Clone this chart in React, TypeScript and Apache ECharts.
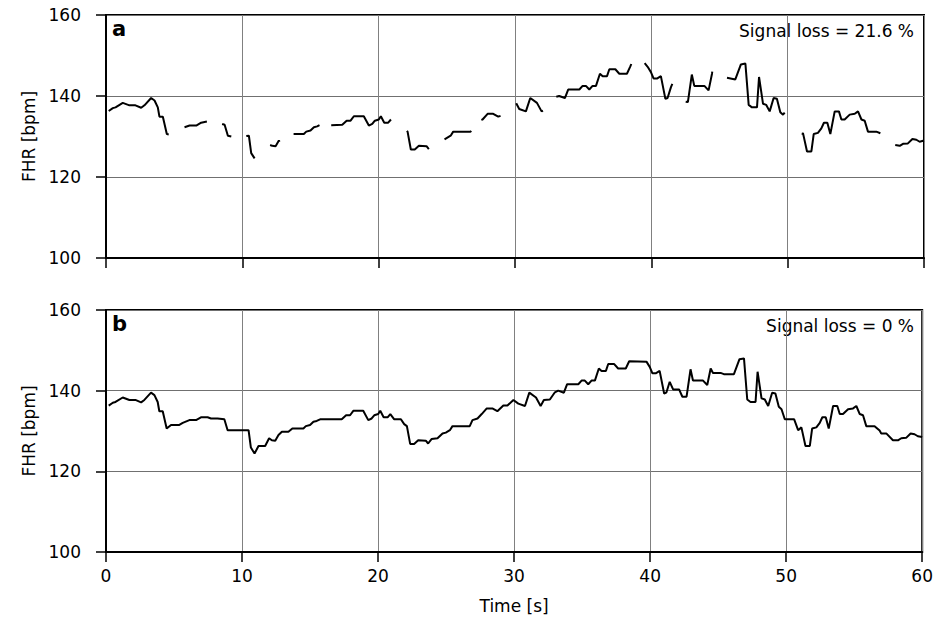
import React, { useEffect, useRef } from "react";
import * as echarts from "echarts";

const TIME = [
  0.2, 0.5, 0.7, 1.23, 1.72, 2.16, 2.58, 2.82, 3.31, 3.56, 3.8, 3.92, 4.17, 4.46, 4.78, 5.39, 5.64, 6.13, 6.62, 6.98,
  7.47, 7.72, 8.2, 8.7, 8.94, 10.48, 10.65, 10.92, 11.21, 11.7, 11.99, 12.19, 12.44, 12.68, 12.93, 13.41, 13.7, 14.51,
  14.69, 15.0, 15.25, 15.49, 15.74, 17.33, 17.65, 17.94, 18.18, 18.91, 19.28, 19.53, 19.72, 20.01, 20.16, 20.41, 20.7,
  20.9, 21.19, 21.68, 21.92, 22.12, 22.36, 22.65, 22.95, 23.51, 23.68, 23.93, 24.37, 24.74, 24.98, 25.28, 25.47, 26.74,
  26.94, 27.31, 27.62, 27.99, 28.4, 28.77, 29.21, 29.51, 29.95, 30.31, 30.8, 31.12, 31.61, 31.95, 32.19, 32.63, 33.0,
  33.24, 33.66, 33.9, 34.72, 34.96, 35.2, 35.45, 35.69, 35.94, 36.23, 36.43, 36.75, 36.92, 37.36, 37.65, 38.21, 38.46,
  39.73, 39.97, 40.17, 40.41, 40.7, 41.03, 41.19, 41.44, 41.69, 42.13, 42.37, 42.68, 42.97, 43.15, 43.89, 44.2, 44.45,
  44.62, 45.18, 45.42, 46.16, 46.57, 46.9, 47.14, 47.38, 47.75, 47.9, 48.19, 48.43, 48.68, 48.97, 49.21, 49.46, 49.66,
  49.9, 50.59, 50.88, 51.12, 51.42, 51.74, 51.91, 52.22, 52.47, 52.66, 52.91, 53.13, 53.45, 53.76, 53.94, 54.18, 54.55,
  54.92, 55.16, 55.41, 55.65, 55.89, 56.5, 56.87, 56.99, 57.36, 57.85, 58.22, 58.46, 58.82, 59.15, 59.44, 59.68, 60.0,
];

const FHR = [
  136.3, 137.0, 137.2, 138.3, 137.7, 137.7, 137.1, 137.7, 139.5, 138.9, 137.2, 134.9, 134.9, 130.6, 131.5, 131.5, 132.0,
  132.7, 132.7, 133.4, 133.4, 133.1, 133.1, 132.9, 130.2, 130.2, 125.9, 124.4, 126.3, 126.3, 128.2, 127.7, 127.6, 129.0,
  129.8, 129.8, 130.6, 130.6, 131.2, 131.5, 132.3, 132.5, 132.9, 132.9, 133.9, 133.9, 135.0, 135.0, 132.7, 133.1, 133.9,
  134.2, 135.0, 133.4, 133.4, 134.2, 132.9, 132.9, 131.7, 131.2, 126.8, 126.8, 127.7, 127.6, 126.9, 128.0, 128.2, 129.4,
  129.6, 130.2, 131.2, 131.2, 132.7, 133.1, 134.2, 135.6, 135.6, 134.9, 136.3, 136.3, 137.7, 136.8, 136.2, 139.5, 138.3,
  136.2, 137.7, 137.8, 139.6, 140.0, 139.5, 141.6, 141.6, 142.5, 142.5, 141.6, 142.5, 142.5, 145.5, 144.9, 144.9, 146.6,
  146.6, 145.5, 145.5, 147.3, 147.2, 145.9, 144.3, 144.3, 144.9, 139.3, 139.5, 142.2, 140.3, 140.3, 138.5, 138.5, 145.3,
  142.5, 142.5, 141.4, 145.5, 144.4, 144.4, 144.1, 144.1, 147.8, 148.0, 137.8, 137.2, 137.2, 144.7, 138.1, 137.8, 136.2,
  139.5, 139.3, 136.0, 135.4, 132.9, 132.9, 130.2, 130.9, 126.3, 126.3, 130.6, 130.9, 132.0, 133.4, 133.4, 130.6, 136.2,
  136.2, 134.2, 134.2, 135.4, 135.6, 136.2, 134.2, 133.9, 131.2, 131.2, 130.1, 129.4, 129.4, 127.7, 127.7, 128.2, 128.3,
  129.4, 129.2, 128.7, 128.5,
];

const SEG_START = [0.2, 5.76, 8.52, 10.29, 12.04, 13.76, 16.52, 22.07, 24.83, 27.53, 30.09, 33.03, 39.51, 42.52, 45.55, 51.08, 57.89];
const SEG_START_FHR = [136.3, 132.3, 133.1, 130.1, 127.9, 130.6, 132.8, 131.4, 129.3, 134.1, 138.2, 139.8, 148.1, 138.6, 144.5, 130.4, 127.9];
const SEG_END = [4.6, 7.4, 9.19, 10.9, 12.73, 15.66, 20.92, 23.73, 26.79, 28.94, 32.05, 38.53, 41.54, 44.47, 49.78, 56.8, 60.0];
const SEG_END_FHR = [130.5, 133.7, 130.0, 124.6, 128.7, 132.8, 134.1, 126.9, 131.4, 135.1, 136.4, 147.9, 143.0, 146.0, 135.9, 130.8, 129.0];

const X_TICKS = [0, 10, 20, 30, 40, 50, 60];
const Y_TICKS = [100, 120, 140, 160];
const LOSS_A = "Signal loss = 21.6 %";
const LOSS_B = "Signal loss = 0 %";

const FONT = "DejaVu Sans";

function buildA() {
  const out: any[] = [];
  for (let k = 0; k < SEG_START.length; k++) {
    const s = SEG_START[k];
    const e = SEG_END[k];
    out.push([s, SEG_START_FHR[k]]);
    for (let i = 0; i < TIME.length; i++) {
      if (TIME[i] > s && TIME[i] < e) out.push([TIME[i], FHR[i]]);
    }
    out.push([e, SEG_END_FHR[k]]);
    if (k < SEG_START.length - 1) out.push([e, "-"]);
  }
  return out;
}

export default function App() {
  const ref = useRef<HTMLDivElement>(null);
  useEffect(() => {
    if (!ref.current) return;
    const chart = echarts.init(ref.current, null, { renderer: "svg" });
    const xAxisBase = (gi: number, labels: boolean) => ({
      type: "value",
      gridIndex: gi,
      min: X_TICKS[0],
      max: X_TICKS[X_TICKS.length - 1],
      interval: 10,
      axisLine: { show: true, lineStyle: { color: "#000", width: 2 } },
      axisTick: { show: true, inside: false, length: 10, lineStyle: { color: "#000", width: 1.5 } },
      axisLabel: {
        show: labels,
        color: "#000",
        fontFamily: FONT,
        fontSize: 17,
        margin: 15,
      },
      splitLine: { show: true, lineStyle: { color: "#808080", width: 1 } },
      name: labels ? "Time [s]" : "",
      nameLocation: "middle",
      nameGap: 45,
      nameTextStyle: { color: "#000", fontFamily: FONT, fontSize: 17 },
    });
    const yAxisBase = (gi: number) => ({
      type: "value",
      gridIndex: gi,
      min: Y_TICKS[0],
      max: Y_TICKS[Y_TICKS.length - 1],
      interval: 20,
      axisLine: { show: true, lineStyle: { color: "#000", width: 2 } },
      axisTick: { show: true, inside: false, length: 10, lineStyle: { color: "#000", width: 1.5 } },
      axisLabel: { color: "#000", fontFamily: FONT, fontSize: 17, margin: 25 },
      splitLine: { show: true, lineStyle: { color: "#707070", width: 1 } },
      name: "FHR [bpm]",
      nameLocation: "middle",
      nameGap: 66,
      nameTextStyle: { color: "#000", fontFamily: FONT, fontSize: 17 },
    });
    const lineStyle = { color: "#000", width: 2 };
    chart.setOption({
      animation: false,
      backgroundColor: "#fff",
      grid: [
        { left: 106, top: 15, width: 818, height: 243, show: true, borderColor: "#000", borderWidth: 2, backgroundColor: "transparent" },
        { left: 106, top: 310, width: 818, height: 242, show: true, borderColor: "#000", borderWidth: 2, backgroundColor: "transparent" },
      ],
      xAxis: [xAxisBase(0, false), xAxisBase(1, true)],
      yAxis: [yAxisBase(0), yAxisBase(1)],
      series: [
        {
          type: "line",
          xAxisIndex: 0,
          yAxisIndex: 0,
          data: buildA(),
          showSymbol: false,
          symbol: "none",
          connectNulls: false,
          lineStyle,
        },
        {
          type: "line",
          xAxisIndex: 1,
          yAxisIndex: 1,
          data: TIME.map((t, i) => [t, FHR[i]]),
          showSymbol: false,
          symbol: "none",
          lineStyle,
        },
      ],
      graphic: [
        { type: "text", left: 112, top: 18, style: { text: "a", font: `bold 21px "${FONT}"`, fill: "#000" } },
        { type: "text", left: 112, top: 313, style: { text: "b", font: `bold 21px "${FONT}"`, fill: "#000" } },
        { type: "text", right: 22, top: 22, style: { text: LOSS_A, font: `17px "${FONT}"`, fill: "#000" } },
        { type: "text", right: 22, top: 317, style: { text: LOSS_B, font: `17px "${FONT}"`, fill: "#000" } },
      ],
    });
    return () => chart.dispose();
  }, []);
  return <div ref={ref} style={{ position: "fixed", left: 0, top: 0, width: 936, height: 621 }} />;
}
